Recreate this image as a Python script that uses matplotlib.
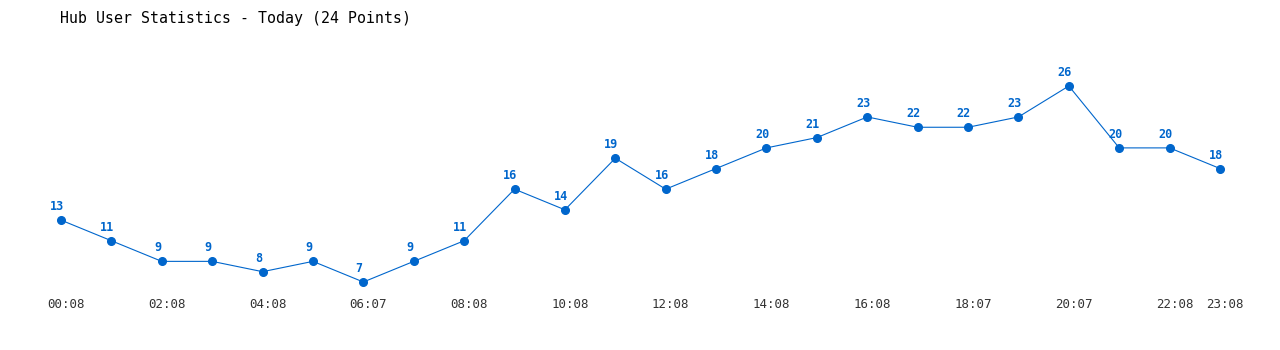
import matplotlib
matplotlib.use("Agg")
import matplotlib.pyplot as plt
import matplotlib.transforms as mtransforms

# hub users per sample, today
users = [13, 11, 9, 9, 8, 9, 7, 9, 11, 16, 14, 19, 16, 18, 20, 21, 23, 22, 22, 23, 26, 20, 20, 18]
tick_pos = [0, 2, 4, 6, 8, 10, 12, 14, 16, 18, 20, 22, 23]
tick_labels = ["00:08", "02:08", "04:08", "06:07", "08:08", "10:08", "12:08",
               "14:08", "16:08", "18:07", "20:07", "22:08", "23:08"]

blue = "#0066CC"
plt.rcParams['font.family'] = ['DejaVu Sans Mono']

fig = plt.figure(figsize=(12.8, 3.5), dpi=100)
ax = fig.add_axes([0, 58/350, 1, 252/350])

x = list(range(len(users)))
ax.plot(x, users, color=blue, linewidth=0.8, marker='o', markersize=5.5)

for i, v in enumerate(users):
    ax.annotate(str(v), (i, v), xytext=(-3, 5), textcoords='offset points',
                ha='center', va='bottom', color=blue, fontsize=8.5, fontweight='bold')

ax.set_xlim(-61/50.39, 23 + 60/50.39)
ax.set_ylim(7 - 10/10.316, 26 + 46/10.316)
ax.set_xticks(tick_pos)
ax.set_xticklabels(tick_labels, fontsize=9, color="#333333")
ax.tick_params(axis='x', length=0, pad=4)
shift = mtransforms.ScaledTranslation(5/100, 0, fig.dpi_scale_trans)
for lbl in ax.get_xticklabels():
    lbl.set_transform(lbl.get_transform() + shift)
ax.set_yticks([])
for s in ax.spines.values():
    s.set_visible(False)

fig.text(60/1280, 1 - 18/350, "Hub User Statistics - Today (24 Points)",
         fontsize=10.7, va='center', ha='left', color="black")

fig.savefig("out.png", dpi=100)
